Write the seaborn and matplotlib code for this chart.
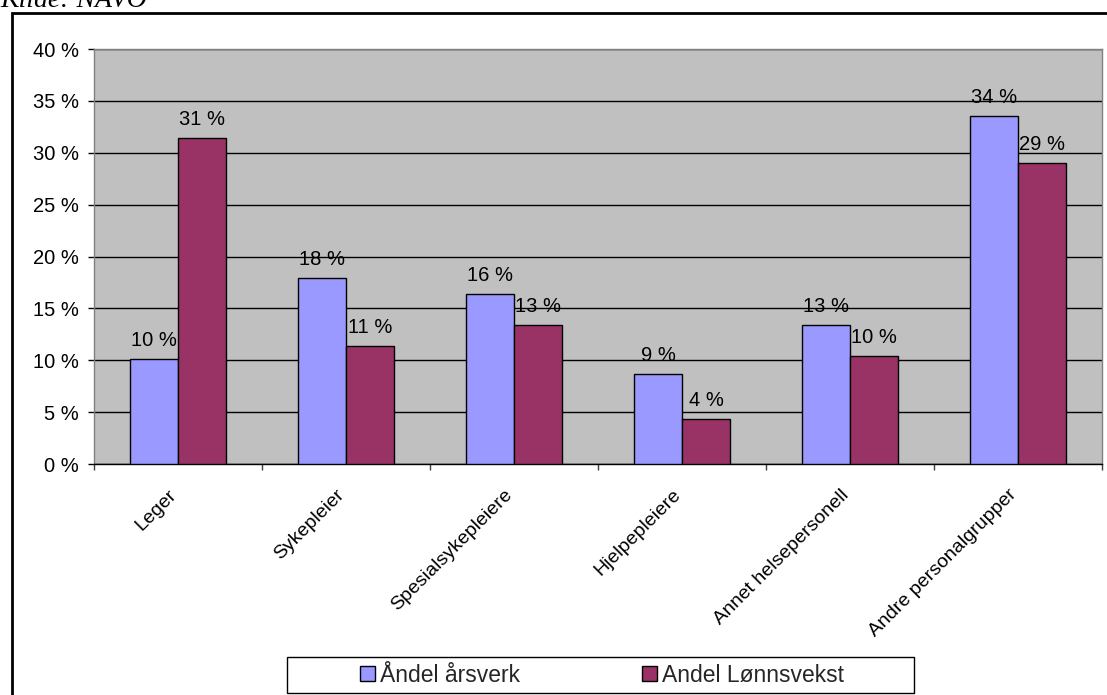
import matplotlib
matplotlib.use("Agg")
import matplotlib.pyplot as plt
from matplotlib.patches import Rectangle, Patch
from matplotlib.ticker import FuncFormatter, MultipleLocator, FixedLocator
from matplotlib.transforms import ScaledTranslation
import seaborn as sns
import pandas as pd

# Personnel groups and their shares (percent)
categories = ["Leger", "Sykepleier", "Spesialsykepleiere", "Hjelpepleiere",
              "Annet helsepersonell", "Andre personalgrupper"]
andel_arsverk = [10.1, 17.9, 16.4, 8.7, 13.4, 33.5]
andel_lonnsvekst = [31.4, 11.4, 13.4, 4.3, 10.4, 29.0]
series_names = ["Åndel årsverk", "Andel Lønnsvekst"]
colors = ["#9999FF", "#993366"]
source_text = "Kilde: NAVO"

df = pd.DataFrame({
    "Gruppe": categories * 2,
    "Serie": [series_names[0]] * len(categories) + [series_names[1]] * len(categories),
    "Andel": andel_arsverk + andel_lonnsvekst,
})

sns.set_theme(style="white")
plt.rcParams["font.family"] = ["Liberation Sans", "DejaVu Sans"]

W, H = 1107, 695
fig = plt.figure(figsize=(W / 100, H / 100), dpi=100)
ax = fig.add_axes([94 / W, 1 - 464 / H, (1102 - 94) / W, (464 - 49) / H])

sns.barplot(data=df, x="Gruppe", y="Andel", hue="Serie", order=categories,
            hue_order=series_names, palette=colors, width=96 / 168, gap=0,
            edgecolor="black", linewidth=1.0, saturation=1, ax=ax, legend=False,
            zorder=3)

ax.set_facecolor("#C0C0C0")
ax.set_ylim(0, 40)
ax.set_xlim(-0.5, len(categories) - 0.5)
ax.yaxis.set_major_locator(MultipleLocator(5))
ax.yaxis.set_major_formatter(FuncFormatter(lambda v, p: f"{v:.0f} %"))
ax.grid(axis="y", color="black", linewidth=1.0, zorder=1)
ax.set_axisbelow(True)
ax.set_xlabel("")
ax.set_ylabel("")

for side in ["top", "right", "left"]:
    ax.spines[side].set_color("#808080")
    ax.spines[side].set_linewidth(1.0)
ax.spines["bottom"].set_color("black")
ax.spines["bottom"].set_linewidth(1.0)

ax.tick_params(axis="y", which="major", direction="out", length=4.3, width=1,
               color="black", labelsize=14.5, pad=6.5, left=True, labelcolor="black")
ax.tick_params(axis="x", which="major", length=0, pad=16, labelsize=14,
               labelcolor="black")
ax.xaxis.set_minor_locator(FixedLocator([i - 0.5 for i in range(len(categories) + 1)]))
ax.tick_params(axis="x", which="minor", direction="out", length=4.3, width=1,
               color="#404040", bottom=True)
ax.set_xticks(range(len(categories)))
ax.set_xticklabels(categories, rotation=45, ha="right", va="top",
                   rotation_mode="anchor")
shift = ScaledTranslation(-10 / 100, 0, fig.dpi_scale_trans)
for lbl in ax.get_xticklabels():
    lbl.set_transform(lbl.get_transform() + shift)

# Value labels above each bar
for container in ax.containers:
    for bar in container:
        h = bar.get_height()
        ax.annotate(f"{h:.0f} %", (bar.get_x() + bar.get_width() / 2, h),
                    xytext=(0, 6.5), textcoords="offset points",
                    ha="center", va="bottom", fontsize=14.5, color="black",
                    zorder=5)

# Legend with a separate box around it
handles = [Patch(facecolor=c, edgecolor="black", linewidth=1.0) for c in colors]
fig.legend(handles, series_names, loc="center", ncol=2,
           bbox_to_anchor=(602 / W, 1 - 675 / H), frameon=False,
           fontsize=16.5, handlelength=0.66, handleheight=0.66, handletextpad=0.22,
           columnspacing=5.3, borderpad=0, borderaxespad=0)
fig.patches.append(Rectangle((287 / W, 1 - 693 / H), (914 - 287) / W, 36 / H,
                             transform=fig.transFigure, fill=False,
                             edgecolor="black", linewidth=1.0, zorder=1))

# Outer frame
fig.patches.append(Rectangle((12 / W, -0.05), 1.2, 1 - 13 / H + 0.05,
                             transform=fig.transFigure, fill=False,
                             edgecolor="black", linewidth=2.0, zorder=0))

fig.text(0 / W, 1 - 7 / H, source_text, family="Liberation Serif", style="italic",
         fontsize=20, ha="left", va="baseline", color="black")

fig.savefig("out.png", dpi=100)
